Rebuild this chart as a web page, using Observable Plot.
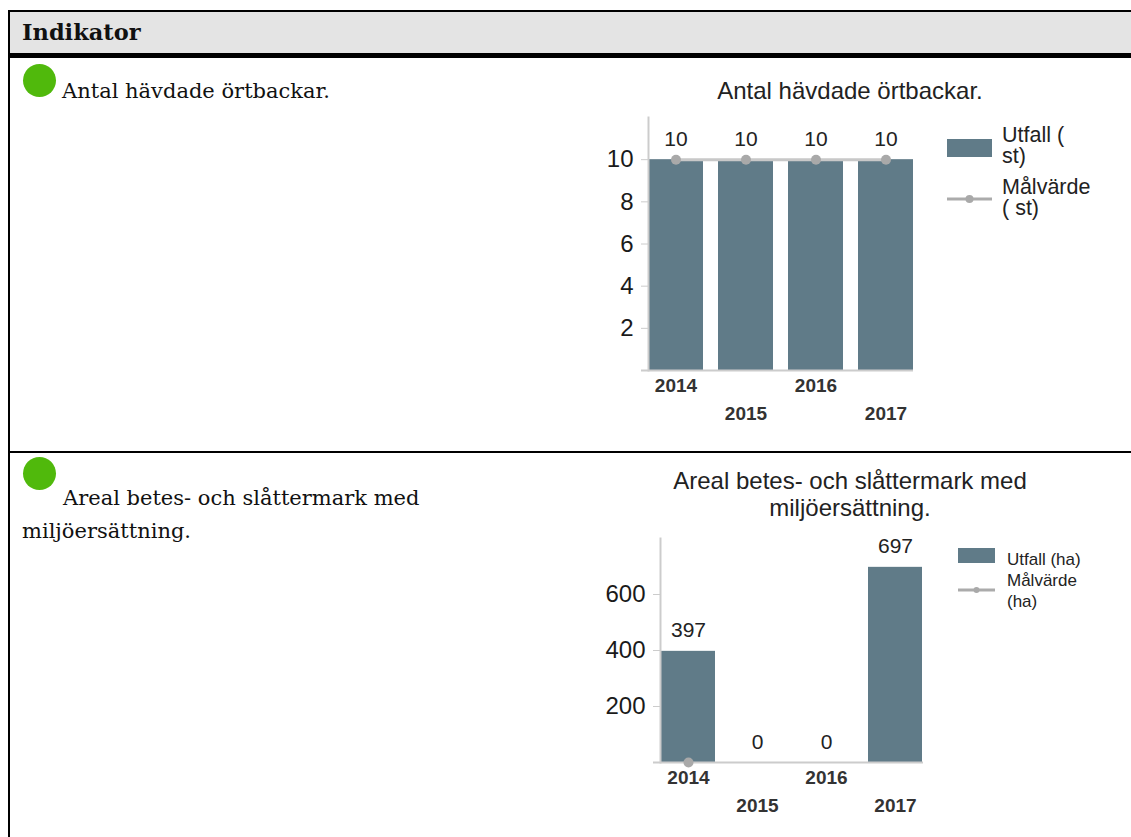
<!DOCTYPE html>
<html>
<head>
<meta charset="utf-8">
<script src="https://cdn.jsdelivr.net/npm/d3@7"></script>
<script src="https://cdn.jsdelivr.net/npm/@observablehq/plot@0.6"></script>
<style>
  html, body { margin: 0; padding: 0; }
  body { width: 1131px; height: 837px; overflow: hidden; background: #fff; position: relative; font-family: "Liberation Sans", Arial, sans-serif; }
  .abs { position: absolute; }
  .line { position: absolute; background: #000; }
  .serif { font-family: "DejaVu Serif", Georgia, serif; color: #111; }
  .dot { position: absolute; width: 33px; height: 33px; border-radius: 50%; background: #50b90c; }
  .title { position: absolute; text-align: center; font-size: 24px; line-height: 27px; color: #222; }
  .leg { position: absolute; color: #222; }
  svg [aria-label="x-axis tick label"] { font-weight: bold; }
</style>
</head>
<body>
<script>
// ---------- data ----------
const headerText = "Indikator";
const indicators = ["Antal hävdade örtbackar.", "Areal betes- och slåttermark med miljöersättning."];
const chartTitles = ["Antal hävdade örtbackar.", "Areal betes- och slåttermark med miljöersättning."];
const years = ["2014", "2015", "2016", "2017"];
const xTicksRow1 = ["2014", "2016"];
const xTicksRow2 = ["2015", "2017"];

const utfall1 = [10, 10, 10, 10];
const malvarde1 = [10, 10, 10, 10];
const yTicks1 = [2, 4, 6, 8, 10];
const legend1 = ["Utfall ( st)", "Målvärde ( st)"];

const utfall2 = [397, 0, 0, 697];
const malvarde2 = [0, null, null, null];
const yTicks2 = [200, 400, 600];
const legend2 = ["Utfall (ha)", "Målvärde (ha)"];

const barColor = "#607b88";
const targetLine = "#c8c8c8";
const targetDot = "#a9a9a9";
const legendLine = "#ababab";

// ---------- table frame ----------
const root = document.body;
function el(tag, cls, style, text) {
  const e = document.createElement(tag);
  if (cls) e.className = cls;
  Object.assign(e.style, style || {});
  if (text != null) e.textContent = text;
  root.appendChild(e);
  return e;
}
el("div", "abs", {left: "10px", top: "12px", width: "1200px", height: "41px", background: "#e4e4e4"});
el("div", "line", {left: "8px", top: "10px", width: "1200px", height: "2px"});
el("div", "line", {left: "8px", top: "53px", width: "1200px", height: "5px"});
el("div", "line", {left: "8px", top: "10px", width: "2px", height: "900px"});
el("div", "line", {left: "8px", top: "451px", width: "1200px", height: "2px"});

el("div", "abs serif", {left: "22px", top: "16px", fontSize: "22.5px", lineHeight: "33px", fontWeight: "bold"}, headerText);

// row 1 left
el("div", "dot", {left: "23px", top: "64px"});
el("div", "abs serif", {left: "62px", top: "75px", fontSize: "21px", lineHeight: "33px", whiteSpace: "nowrap"}, indicators[0]);
// row 2 left
el("div", "dot", {left: "23px", top: "457px"});
el("div", "abs serif", {left: "22px", top: "482px", width: "430px", textIndent: "41px", fontSize: "21px", lineHeight: "33px"}, indicators[1]);

// ---------- chart titles ----------
el("div", "title", {left: "650px", top: "77px", width: "400px"}, chartTitles[0]);
el("div", "title", {left: "660px", top: "467px", width: "380px"}, chartTitles[1]);

// ---------- charts ----------
function chart({utfall, malvarde, yDomain, yTicks, width, height, margins, left, top}) {
  const data = years.map((y, i) => ({year: y, utfall: utfall[i], malvarde: malvarde[i]}));
  const p = Plot.plot({
    width, height,
    marginLeft: margins[0], marginRight: margins[1], marginTop: margins[2], marginBottom: margins[3],
    style: {fontFamily: "'Liberation Sans', Arial, sans-serif", background: "transparent", overflow: "visible"},
    x: {domain: years, paddingInner: 0.22, paddingOuter: 0},
    y: {domain: yDomain},
    marks: [
      Plot.barY(data, {x: "year", y: "utfall", fill: barColor}),
      Plot.frame({anchor: "left", stroke: "#cccccc", strokeWidth: 2}),
      Plot.ruleY([0], {stroke: "#cccccc", strokeWidth: 2, insetLeft: -7}),
      Plot.line(data.filter(d => d.malvarde != null), {x: "year", y: "malvarde", stroke: targetLine, strokeWidth: 3}),
      Plot.dot(data.filter(d => d.malvarde != null), {x: "year", y: "malvarde", r: 5, fill: targetDot}),
      Plot.text(data, {x: "year", y: "utfall", text: d => String(d.utfall), dy: -14, lineAnchor: "bottom", fontSize: 21, fill: "#222"}),
      Plot.axisY({ticks: yTicks, tickSize: 7, tickPadding: 8, stroke: "#cccccc", fill: "#1a1a1a", fontSize: 24, label: null, tickFormat: d => String(d)}),
      Plot.axisX({ticks: xTicksRow1, tickSize: 0, tickPadding: 8, fontSize: 19, fill: "#333", label: null}),
      Plot.axisX({ticks: xTicksRow2, tickSize: 0, tickPadding: 36, fontSize: 19, fill: "#333", label: null})
    ]
  });
  p.style.position = "absolute";
  p.style.left = left + "px";
  p.style.top = top + "px";
  root.appendChild(p);
}

chart({utfall: utfall1, malvarde: malvarde1, yDomain: [0, 12], yTicks: yTicks1,
  width: 330, height: 320, margins: [52, 13, 7, 60], left: 596, top: 110});
chart({utfall: utfall2, malvarde: malvarde2, yDomain: [0, 800], yTicks: yTicks2,
  width: 335, height: 300, margins: [64, 8, 8, 68], left: 596, top: 530});

// ---------- legends ----------
function swatchRect(w, h) {
  return `<svg width="${w}" height="${h}" style="display:block"><rect width="${w}" height="${h}" fill="${barColor}"/></svg>`;
}
function swatchLine(w, r) {
  return `<svg width="${w}" height="12" style="display:block"><line x1="0" x2="${w}" y1="6" y2="6" stroke="${legendLine}" stroke-width="3"/><circle cx="${w/2}" cy="6" r="${r}" fill="${targetDot}"/></svg>`;
}
function legend(labels, o) {
  const s1 = el("div", "abs", {left: o.sx + "px", top: o.rectTop + "px"});
  s1.innerHTML = swatchRect(o.sw, o.sh);
  el("div", "leg", {left: o.tx + "px", top: o.t1 + "px", width: o.tw + "px", fontSize: o.fs + "px", lineHeight: o.lh + "px"}, labels[0]);
  const s2 = el("div", "abs", {left: o.sx + "px", top: (o.lineY - 6) + "px"});
  s2.innerHTML = swatchLine(o.sw, o.r);
  el("div", "leg", {left: o.tx + "px", top: o.t2 + "px", width: o.tw + "px", fontSize: o.fs + "px", lineHeight: o.lh + "px"}, labels[1]);
}
legend(legend1, {sx: 947, sw: 45, sh: 18, rectTop: 139, lineY: 199, r: 4, tx: 1002, tw: 90, t1: 125, t2: 177, fs: 21.5, lh: 21});
legend(legend2, {sx: 958, sw: 37, sh: 15, rectTop: 548, lineY: 590, r: 3, tx: 1007, tw: 84, t1: 549, t2: 570, fs: 17, lh: 21});
</script>
</body>
</html>
